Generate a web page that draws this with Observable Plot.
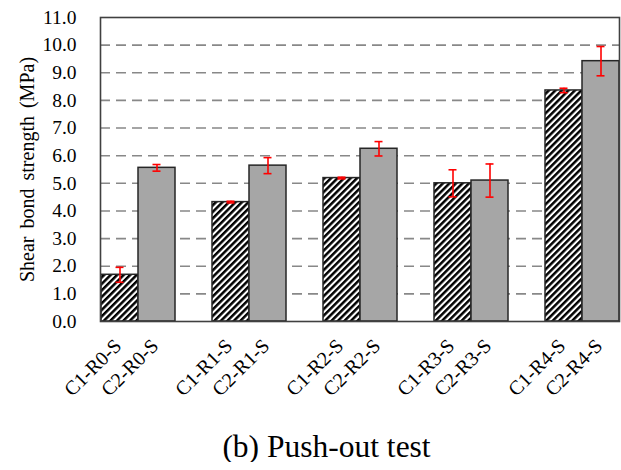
<!DOCTYPE html>
<html>
<head>
<meta charset="utf-8">
<script src="https://cdn.jsdelivr.net/npm/d3@7"></script>
<script src="https://cdn.jsdelivr.net/npm/@observablehq/plot@0.6"></script>
<style>
  body { margin: 0; background: #fff; }
  #caption { width: 621px; box-sizing: border-box; padding-left: 32px; text-align: center;
    font-family: "Liberation Serif", Tinos, "Times New Roman", serif; font-size: 31.5px; line-height: 30px; margin-top: 12px; color: #000; }
  svg text { font-family: "Liberation Serif", Tinos, "Times New Roman", serif !important; }
</style>
</head>
<body>
<div id="chart"></div>
<div id="caption">(b) Push-out test</div>
<script>
const groups = ["R0", "R1", "R2", "R3", "R4"];
const series = ["C1", "C2"];
const labels = ["C1-R0-S", "C2-R0-S", "C1-R1-S", "C2-R1-S", "C1-R2-S", "C2-R2-S", "C1-R3-S", "C2-R3-S", "C1-R4-S", "C2-R4-S"];
const means  = [1.69, 5.56, 4.32, 5.64, 5.19, 6.25, 5.00, 5.10, 8.36, 9.42];
const errors = [0.27, 0.12, 0.03, 0.29, 0.03, 0.26, 0.49, 0.60, 0.08, 0.53];
const yTicks = [0, 1, 2, 3, 4, 5, 6, 7, 8, 9, 10, 11];
const gridTicks = [1, 2, 3, 4, 5, 6, 7, 8, 9, 10];
const yTitle = "Shear bond strength (MPa)";

const rows = labels.map((label, i) => ({
  label, series: series[i % 2], group: groups[Math.floor(i / 2)],
  mean: means[i], err: errors[i]
}));

// x domain: two bars per group, an empty slot between groups
const xDomain = [];
groups.forEach((g, gi) => {
  series.forEach(s => xDomain.push(`${s}-${g}-S`));
  if (gi < groups.length - 1) xDomain.push(`gap-${g}`);
});

const font = "Liberation Serif, Tinos, Times New Roman, serif";
const red = "#ff0000";

const plot = Plot.plot({
  width: 621,
  height: 420,
  marginTop: 17,
  marginBottom: 99,
  marginLeft: 100,
  marginRight: 2,
  style: { fontFamily: font, fontSize: "19.5px", color: "#000", background: "#fff" },
  x: { domain: xDomain, padding: 0, axis: null },
  y: { domain: [0, 11], axis: null },
  marks: [
    Plot.ruleY(gridTicks, { stroke: "#888888", strokeWidth: 1.6, strokeDasharray: "10,6" }),
    Plot.barY(rows.filter(d => d.series === "C1"), { x: "label", y: "mean", fill: "url(#hatch)", stroke: "#262626", strokeWidth: 1.5 }),
    Plot.barY(rows.filter(d => d.series === "C2"), { x: "label", y: "mean", fill: "#a6a6a6", stroke: "#262626", strokeWidth: 1.5 }),
    Plot.ruleX(rows, { x: "label", y1: d => d.mean - d.err, y2: d => d.mean + d.err, stroke: red, strokeWidth: 1.6 }),
    Plot.tickY(rows, { x: "label", y: d => d.mean - d.err, stroke: red, strokeWidth: 1.6, insetLeft: 14.5, insetRight: 14.5 }),
    Plot.tickY(rows, { x: "label", y: d => d.mean + d.err, stroke: red, strokeWidth: 1.6, insetLeft: 14.5, insetRight: 14.5 }),
    Plot.frame({ stroke: "#404040", strokeWidth: 1.6 }),
    Plot.axisY({ ticks: yTicks, tickFormat: d => d.toFixed(1), tickSize: 0, tickPadding: 24, label: null, fontSize: 19.5, fill: "#000" }),
    Plot.text(rows, { x: "label", text: "label", frameAnchor: "bottom", rotate: -45, textAnchor: "end", lineAnchor: "middle", dx: -2, dy: 21, fontSize: 20, fill: "#000" }),
    Plot.text([yTitle], { frameAnchor: "left", rotate: -90, textAnchor: "middle", dx: -73, dy: 0, fontSize: 20, fill: "#000" })
  ]
});

// slightly wider word spacing on the y title, as in the reference
plot.querySelectorAll("text").forEach(t => {
  if (t.textContent === yTitle) t.style.wordSpacing = "3px";
});

// hatch pattern for C1 bars
const ns = "http://www.w3.org/2000/svg";
const defs = document.createElementNS(ns, "defs");
const pat = document.createElementNS(ns, "pattern");
pat.setAttribute("id", "hatch");
pat.setAttribute("patternUnits", "userSpaceOnUse");
pat.setAttribute("width", "4.6");
pat.setAttribute("height", "4.6");
pat.setAttribute("patternTransform", "rotate(45)");
const bg = document.createElementNS(ns, "rect");
bg.setAttribute("width", "4.6"); bg.setAttribute("height", "4.6"); bg.setAttribute("fill", "#fff");
const st = document.createElementNS(ns, "rect");
st.setAttribute("width", "2.5"); st.setAttribute("height", "4.6"); st.setAttribute("fill", "#000");
pat.appendChild(bg); pat.appendChild(st);
defs.appendChild(pat);
plot.insertBefore(defs, plot.firstChild);

document.getElementById("chart").appendChild(plot);
</script>
</body>
</html>
